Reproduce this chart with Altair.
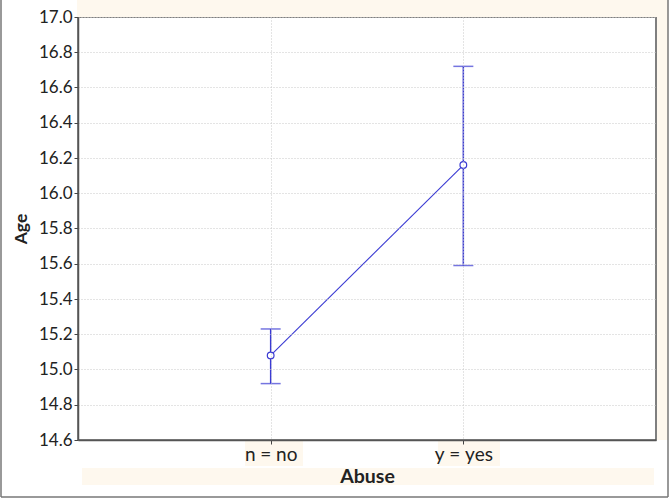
import altair as alt
import pandas as pd

categories = ["n = no", "y = yes"]
means = [15.08, 16.16]
lower = [14.92, 15.59]
upper = [15.23, 16.72]
y_ticks = [14.6, 14.8, 15.0, 15.2, 15.4, 15.6, 15.8, 16.0, 16.2, 16.4, 16.6, 16.8, 17.0]

df = pd.DataFrame({"Abuse": categories, "Age": means, "lo": lower, "hi": upper})
dummy = pd.DataFrame({"d": [0]})

BLUE = "#3b3bd3"
BEIGE = "#fef8ee"
FONT = "Lato"

xscale = alt.Scale(type="point", padding=1, domain=categories)
yscale = alt.Scale(domain=[14.6, 17.0], nice=False, zero=False)

xaxis = alt.Axis(title="Abuse", labelAngle=0, titleFontSize=19.5, titlePadding=3,
                 labelFontSize=19, labelPadding=1, zindex=1,
                 labelExpr="join(split(datum.label, ' '), '\u2005')")
yaxis = alt.Axis(title="Age", values=y_ticks, format=".1f", labelOverlap=False,
                 labelFontSize=17, titleFontSize=17.5, titlePadding=8, labelPadding=2, zindex=1)

X = alt.X("Abuse:N", scale=xscale, axis=xaxis, sort=categories)
Yage = alt.Y("Age:Q", scale=yscale, axis=yaxis)
Ylo = alt.Y("lo:Q", scale=yscale, axis=yaxis)
Yhi = alt.Y("hi:Q", scale=yscale, axis=yaxis)

base = alt.Chart(dummy)

def box(x, x2, y, y2):
    return base.mark_rect(fill=BEIGE, strokeWidth=0).encode(
        x=alt.value(x), x2=alt.value(x2), y=alt.value(y), y2=alt.value(y2))

deco = [
    box(-1, 590, -17, 0),
    box(579, 590, -17, 423),
    box(4, 576, 451, 468),
    box(167, 225, 424, 449),
    box(360, 422, 424, 449),
]

def rule(x, x2, y, y2):
    return base.mark_rule(color="#777", strokeWidth=1.5).encode(
        x=alt.value(x), x2=alt.value(x2), y=alt.value(y), y2=alt.value(y2))

frame = [rule(-77, -77, -17, 480), rule(590, 590, -17, 480), rule(-77, 590, 480, 480)]

c = alt.Chart(df)
line = c.mark_line(color=BLUE, strokeWidth=1.1).encode(x=X, y=Yage)
bars = c.mark_rule(color=BLUE, strokeWidth=1.5).encode(x=X, y=Ylo, y2="hi:Q")
cap_lo = c.mark_tick(color=BLUE, orient="horizontal", size=20, thickness=1.5).encode(x=X, y=Ylo)
cap_hi = c.mark_tick(color=BLUE, orient="horizontal", size=20, thickness=1.5).encode(x=X, y=Yhi)
pts = c.mark_point(shape="circle", filled=False, fill="white", fillOpacity=1,
                   stroke=BLUE, strokeWidth=1.2, size=45, opacity=1).encode(x=X, y=Yage)

chart = alt.layer(line, bars, cap_lo, cap_hi, pts, *deco, *frame).properties(
    width=578, height=423,
    autosize=alt.AutoSizeParams(type="none"),
    padding={"left": 78, "top": 17, "right": 14, "bottom": 59},
    background="white",
).configure_view(stroke="#555", strokeWidth=1.5).configure_axis(
    labelFont=FONT, titleFont=FONT, labelFontSize=16, titleFontSize=16,
    labelColor="#222", titleColor="#222", titleFontWeight="bold",
    tickSize=4, tickColor="#444", domainColor="#555", domainWidth=1.5,
    grid=True, gridColor="#c8c8c8", gridDash=[1, 2], gridWidth=1,
)

chart.save("out.html", embed_options={"renderer": "svg", "actions": False})
